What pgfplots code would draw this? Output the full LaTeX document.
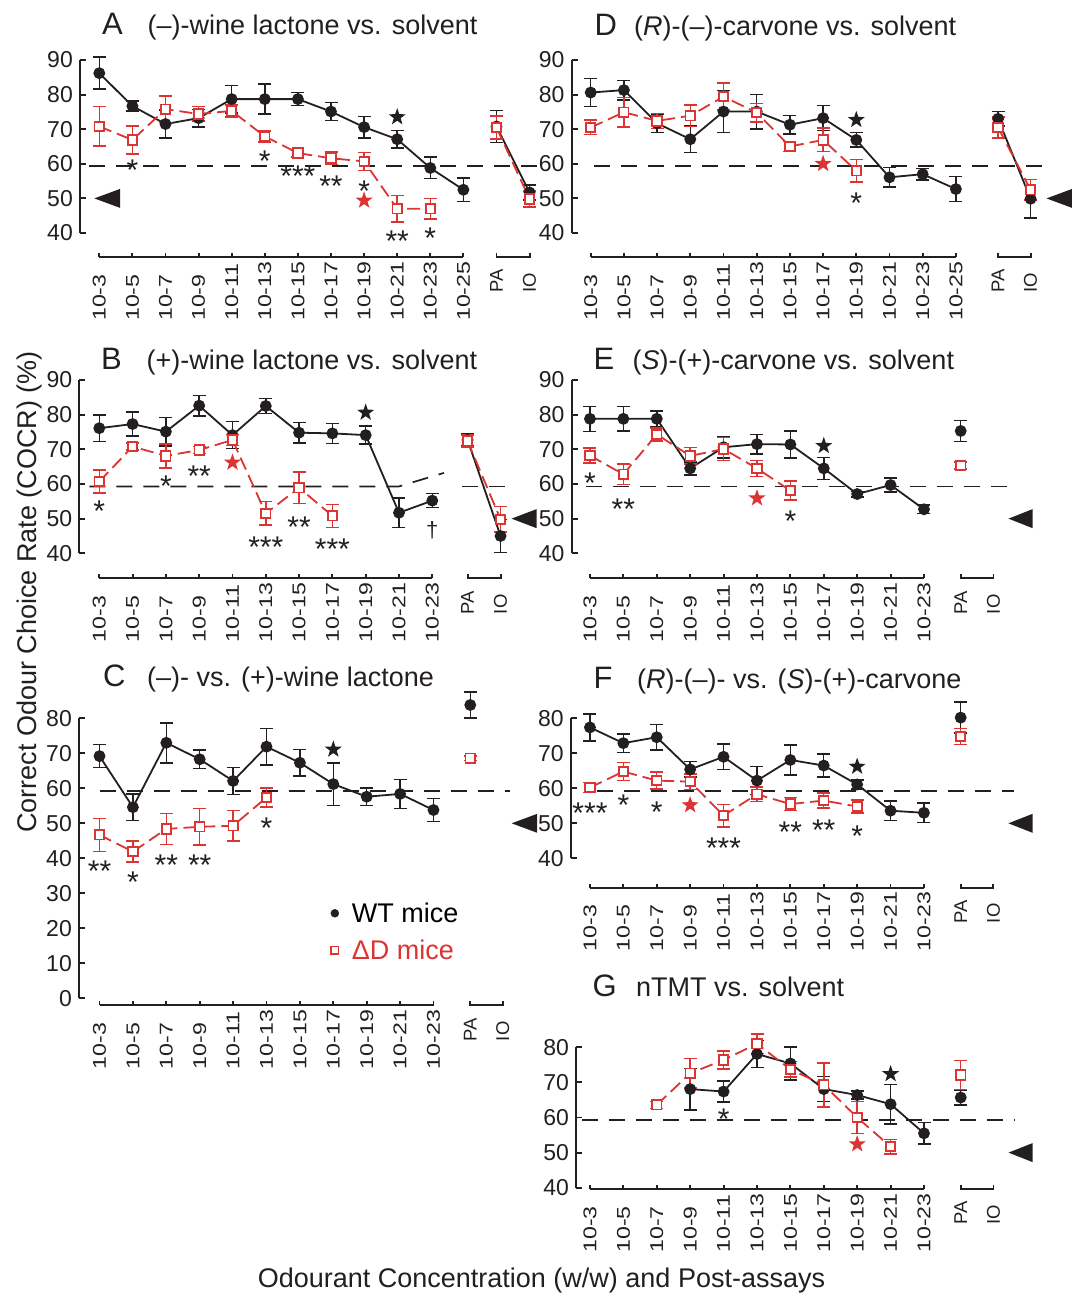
\documentclass[border=0pt]{standalone}
\usepackage{fontspec}
\setmainfont{Liberation Sans}
\newfontfamily\stretchfont[FakeStretch=1.25]{Liberation Sans}
\usepackage{pgfplots}
\pgfplotsset{compat=1.18}
\usetikzlibrary{shapes.geometric}
\definecolor{ink}{HTML}{231F20}
\definecolor{dred}{HTML}{DC3333}

\newcommand{\xf}{\stretchfont\fontsize{18.5}{20}\selectfont}
\newcommand{\paf}{\fontsize{18.5}{20}\selectfont}
\newcommand{\yf}{\fontsize{23}{25}\selectfont}
\newcommand{\labf}{\fontsize{27}{30}\selectfont}
\newcommand{\letf}{\fontsize{31}{34}\selectfont}
\newcommand{\astf}{\fontsize{30}{32}\selectfont}

\tikzset{
  axl/.style={ink, line width=1.9pt},
  chance/.style={ink, line width=1.7pt, dash pattern=on 16pt off 11pt},
  bstar/.style={star, star points=5, star point ratio=2.5, fill=ink, inner sep=0pt, minimum size=18pt},
  rstar/.style={bstar, fill=dred},
  sig/.style={font=\astf, text=ink, inner sep=0pt, anchor=base, yshift=-17pt},
}

% bracket under the concentrations and under PA/IO
\newcommand{\brk}[5]{%
  \draw[axl] (axis cs:0,#2) -- (axis cs:#1,#2);
  \pgfplotsinvokeforeach{0,...,#1}{\draw[axl] (axis cs:##1,#2) -- (axis cs:##1,#3);}
  \draw[axl] (axis cs:#4,#3) -- (axis cs:#4,#2) -- (axis cs:#5,#2) -- (axis cs:#5,#3);
}
% chance-level arrowhead
\newcommand{\tri}[4]{\fill[ink] (axis cs:#1,50) -- (axis cs:#2,#3) -- (axis cs:#2,#4) -- cycle;}
\newcommand{\sg}[3]{\node[sig] at (axis cs:#1,#2) {#3};}
\newcommand{\bst}[2]{\node[bstar] at (axis cs:#1,#2) {};}
\newcommand{\rst}[2]{\node[rstar] at (axis cs:#1,#2) {};}

\pgfplotsset{
  panel/.style={
    clip=false, anchor=south west,
    axis x line*=bottom, axis y line*=left,
    x axis line style={draw=none},
    y axis line style={line width=2pt, ink},
    xtick style={draw=none},
    ytick style={line width=1.9pt, ink},
    tick align=inside, major tick length=6pt,
    /pgf/number format/assume math mode=true,
    yticklabel style={font=\yf, text=ink, anchor=east, inner sep=0pt, xshift=-7pt},
    xticklabel style={font=\xf, text=ink, rotate=90, anchor=west, inner sep=0pt},
    extra x tick style={major tick length=0pt, xtick style={draw=none},
      xticklabel style={font=\paf, xshift=28pt}},
  },
  labs12/.style={xtick={0,...,11}, xticklabels={10-3,10-5,10-7,10-9,10-11,10-13,10-15,10-17,10-19,10-21,10-23,10-25}},
  labs11/.style={xtick={0,...,10}, xticklabels={10-3,10-5,10-7,10-9,10-11,10-13,10-15,10-17,10-19,10-21,10-23}},
  wt/.style={ink, line width=1.8pt, mark=*, mark size=5pt, mark options={solid, fill=ink},
    error bars/y dir=both, error bars/y explicit,
    error bars/error bar style={line width=1.5pt, solid, ink},
    error bars/error mark options={rotate=90, mark size=6.5pt, line width=1.5pt, ink}},
  dd/.style={dred, line width=1.8pt, dash pattern=on 13pt off 6pt, mark=square*, mark size=4.7pt,
    mark options={solid, fill=white, line width=1.8pt},
    error bars/y dir=both, error bars/y explicit,
    error bars/error bar style={line width=1.5pt, solid, dred},
    error bars/error mark options={rotate=90, mark size=6.5pt, line width=1.5pt, dred}},
}

\begin{document}
\begin{tikzpicture}

% ---------------- A ----------------
\begin{axis}[panel, labs12, at={(80pt,-233pt)}, x=33.1pt, y=3.46pt,
  xmin=-0.583, xmax=14, ymin=40, ymax=90, ytick={40,50,...,90},
  extra x ticks={12,13}, extra x tick labels={PA,IO}, xticklabel style={xshift=-88pt}]
\draw[chance] (axis cs:-0.3,59.3) -- (axis cs:13.25,59.3);
\brk{11}{33}{34.2}{12}{13}
\tri{-0.15}{0.63}{52.75}{47.25}
\addplot[wt] coordinates {(0,86.2)+-(0,4.6) (1,76.7)+-(0,1.5) (2,71.5)+-(0,4.0) (3,73.2)+-(0,2.5)
  (4,78.7)+-(0,4.0) (5,78.7)+-(0,4.3) (6,78.7)+-(0,1.9) (7,75.1)+-(0,2.6) (8,70.6)+-(0,3.1)
  (9,67.1)+-(0,2.5) (10,58.8)+-(0,3.1) (11,52.5)+-(0,3.4)};
\addplot[wt] coordinates {(12,70.8)+-(0,4.6) (13,51.7)+-(0,2.2)};
\addplot[dd] coordinates {(0,70.8)+-(0,5.7) (1,66.9)+-(0,4.0) (2,75.8)+-(0,3.8) (3,74.4)+-(0,2.1)
  (4,75.3)+-(0,1.7) (5,67.9)+-(0,1.6) (6,63.1)+-(0,1.1) (7,61.6)+-(0,1.8) (8,60.7)+-(0,2.6)
  (9,47.0)+-(0,3.8) (10,47.0)+-(0,3.0)};
\addplot[dd] coordinates {(12,70.5)+-(0,3.3) (13,49.8)+-(0,2.3)};
\sg{1}{60}{*} \sg{5}{62.6}{*} \sg{6}{58.3}{***} \sg{7}{55.4}{**} \sg{8}{53.9}{*}
\sg{9}{39.5}{**} \sg{10}{40.4}{*}
\bst{9}{73.5} \rst{8}{49.4}
\end{axis}

% ---------------- D ----------------
\begin{axis}[panel, labs12, at={(571.6pt,-233pt)}, x=33.2pt, y=3.46pt,
  xmin=-0.575, xmax=14.4, ymin=40, ymax=90, ytick={40,50,...,90},
  extra x ticks={12.27,13.25}, extra x tick labels={PA,IO}, xticklabel style={xshift=-88pt}]
\draw[chance] (axis cs:0.1,59.3) -- (axis cs:13.9,59.3);
\brk{11}{33.06}{34.2}{12.27}{13.25}
\tri{13.73}{14.5}{52.75}{47.25}
\addplot[wt] coordinates {(0,80.6)+-(0,4.0) (1,81.3)+-(0,2.8) (2,71.7)+-(0,2.6) (3,67.1)+-(0,3.8)
  (4,75.1)+-(0,6.1) (5,75.1)+-(0,5.0) (6,71.3)+-(0,2.7) (7,73.2)+-(0,3.6) (8,66.9)+-(0,2.1)
  (9,56.1)+-(0,2.8) (10,57.0)+-(0,1.7) (11,52.7)+-(0,3.6)};
\addplot[wt] coordinates {(12.27,73.0)+-(0,2.1) (13.25,49.9)+-(0,5.6)};
\addplot[dd] coordinates {(0,70.5)+-(0,2.1) (1,74.9)+-(0,4.2) (2,72.4)+-(0,2.2) (3,73.9)+-(0,3.1)
  (4,79.4)+-(0,3.9) (5,74.8)+-(0,2.7) (6,65.0)+-(0,1.4) (7,66.9)+-(0,3.4) (8,58.0)+-(0,3.3)};
\addplot[dd] coordinates {(12.27,70.5)+-(0,3.0) (13.25,52.5)+-(0,2.9)};
\sg{8}{50.6}{*}
\bst{8}{72.7} \rst{7}{60}
\end{axis}

% ---------------- B ----------------
\begin{axis}[panel, labs11, at={(79.3pt,-553.3pt)}, x=33.3pt, y=3.466pt,
  xmin=-0.6, xmax=13.5, ymin=40, ymax=90, ytick={40,50,...,90},
  extra x ticks={11.06,12.05}, extra x tick labels={PA,IO}, xticklabel style={xshift=-89pt}]
\draw[chance] (axis cs:-0.3,59.3) -- (axis cs:9,59.3) -- (axis cs:10.35,63.2);
\draw[chance] (axis cs:10.9,59.3) -- (axis cs:12.4,59.3);
\brk{10}{32.9}{34.1}{11.06}{12.05}
\tri{12.38}{13.13}{52.74}{47.26}
\addplot[wt] coordinates {(0,76.1)+-(0,3.8) (1,77.3)+-(0,3.5) (2,75.1)+-(0,4.1) (3,82.6)+-(0,3.0)
  (4,74.1)+-(0,3.9) (5,82.5)+-(0,2.1) (6,74.8)+-(0,3.0) (7,74.6)+-(0,2.9) (8,74.1)+-(0,2.6)
  (9,51.7)+-(0,4.2) (10,55.2)+-(0,2.0)};
\addplot[wt] coordinates {(11.06,72.7)+-(0,1.8) (12.05,45.0)+-(0,4.8)};
\addplot[dd] coordinates {(0,60.7)+-(0,3.3) (1,70.8)+-(0,1.0) (2,68.1)+-(0,3.5) (3,69.8)+-(0,1.0)
  (4,72.7)+-(0,1.6) (5,51.5)+-(0,3.4) (6,58.9)+-(0,4.6) (7,50.8)+-(0,3.3)};
\addplot[dd] coordinates {(11.06,72.4)+-(0,1.8) (12.05,49.8)+-(0,3.7)};
\sg{0}{54}{*} \sg{2}{61.3}{*} \sg{3}{64.2}{**} \sg{5}{43.8}{***} \sg{6}{49.6}{**} \sg{7}{43.1}{***}
\node[font=\fontsize{22}{24}\selectfont, text=ink, inner sep=0pt] at (axis cs:10,46.7) {†};
\bst{8}{80.6} \rst{4}{66.2}
\end{axis}

% ---------------- E ----------------
\begin{axis}[panel, labs11, at={(571.6pt,-553.3pt)}, x=33.4pt, y=3.466pt,
  xmin=-0.55, xmax=13.5, ymin=40, ymax=90, ytick={40,50,...,90},
  extra x ticks={11.1,12.08}, extra x tick labels={PA,IO}, xticklabel style={xshift=-89pt}]
\draw[chance] (axis cs:-0.13,59.3) -- (axis cs:12.7,59.3);
\brk{10}{32.9}{34.1}{11.1}{12.08}
\tri{12.53}{13.25}{52.74}{47.26}
\addplot[wt] coordinates {(0,78.8)+-(0,3.6) (1,78.8)+-(0,3.5) (2,78.8)+-(0,2.3) (3,64.5)+-(0,1.9)
  (4,70.6)+-(0,3.1) (5,71.5)+-(0,2.8) (6,71.4)+-(0,3.9) (7,64.5)+-(0,3.2) (8,57.1)+-(0,0.8)
  (9,59.7)+-(0,2.0) (10,52.7)+-(0,1.2)};
\addplot[wt] coordinates {(11.1,75.3)+-(0,3.0)};
\addplot[dd] coordinates {(0,68.2)+-(0,2.2) (1,62.8)+-(0,2.9) (2,74.3)+-(0,1.9) (3,68.1)+-(0,2.4)
  (4,70.1)+-(0,3.3) (5,64.5)+-(0,2.3) (6,58.1)+-(0,2.7)};
\addplot[dd] coordinates {(11.1,65.3)+-(0,1.0)};
\sg{0}{62.1}{*} \sg{1}{54.7}{**} \sg{6}{51.1}{*}
\bst{7}{71} \rst{5}{55.9}
\end{axis}

% ---------------- C ----------------
\begin{axis}[panel, labs11, at={(79pt,-998.3pt)}, x=33.4pt, y=3.5pt,
  xmin=-0.614, xmax=13.5, ymin=0, ymax=80, ytick={0,10,...,80},
  extra x ticks={11.1,12.07}, extra x tick labels={PA,IO}, xticklabel style={xshift=-71pt},
  legend style={draw=none, fill=none, at={(axis cs:6.92,19.0)}, anchor=west,
    font=\labf, inner sep=0pt, row sep=12pt, column sep=11pt, nodes={inner sep=2pt}},
  legend cell align=left]
\addlegendimage{only marks, mark=*, ink, mark size=4pt}
\addlegendentry{WT mice}
\addlegendimage{only marks, mark=square*, mark size=3.8pt, mark options={draw=dred, fill=white, line width=1.6pt}}
\addlegendentry{\textcolor{dred}{ΔD mice}}
\draw[chance] (axis cs:0,59.3) -- (axis cs:12.3,59.3);
\brk{10}{-1.9}{-0.75}{11.1}{12.07}
\tri{12.34}{13.1}{52.7}{47.3}
\addplot[wt] coordinates {(0,69.2)+-(0,3.3) (1,54.6)+-(0,3.8) (2,73.0)+-(0,5.7) (3,68.3)+-(0,2.6)
  (4,62.1)+-(0,3.8) (5,71.9)+-(0,5.2) (6,67.3)+-(0,3.8) (7,61.2)+-(0,6.1) (8,57.6)+-(0,2.5)
  (9,58.4)+-(0,4.1) (10,53.8)+-(0,3.3)};
\addplot[wt] coordinates {(11.1,83.8)+-(0,3.7)};
\addplot[dd] coordinates {(0,46.7)+-(0,4.7) (1,41.9)+-(0,3.0) (2,48.4)+-(0,4.4) (3,49.0)+-(0,5.2)
  (4,49.3)+-(0,4.3) (5,57.4)+-(0,2.7)};
\addplot[dd] coordinates {(11.1,68.6)+-(0,0.6)};
\sg{0}{38.1}{**} \sg{1}{35.2}{*} \sg{2}{40}{**} \sg{3}{40}{**} \sg{5}{50.5}{*}
\bst{7}{71.1}
\end{axis}

% ---------------- F ----------------
\begin{axis}[panel, labs11, at={(570.9pt,-858.3pt)}, x=33.4pt, y=3.5pt,
  xmin=-0.57, xmax=13.5, ymin=40, ymax=80, ytick={40,50,...,80},
  extra x ticks={11.1,12.08}, extra x tick labels={PA,IO}, xticklabel style={xshift=-93pt}]
\draw[chance] (axis cs:0.2,59.3) -- (axis cs:12.7,59.3);
\brk{10}{31.6}{32.75}{11.1}{12.08}
\tri{12.53}{13.25}{52.7}{47.3}
\addplot[wt] coordinates {(0,77.4)+-(0,3.9) (1,72.9)+-(0,2.6) (2,74.6)+-(0,3.6) (3,65.4)+-(0,2.2)
  (4,69.0)+-(0,3.6) (5,62.2)+-(0,4.0) (6,68.1)+-(0,4.3) (7,66.5)+-(0,3.3) (8,61.1)+-(0,1.3)
  (9,53.6)+-(0,2.8) (10,53.0)+-(0,2.8)};
\addplot[wt] coordinates {(11.1,80.2)+-(0,4.4)};
\addplot[dd] coordinates {(0,60.2)+-(0,1.4) (1,64.8)+-(0,2.6) (2,62.2)+-(0,2.4) (3,61.9)+-(0,2.2)
  (4,52.2)+-(0,3.2) (5,58.3)+-(0,2.1) (6,55.5)+-(0,1.9) (7,56.5)+-(0,2.1) (8,54.8)+-(0,1.8)};
\addplot[dd] coordinates {(11.1,74.8)+-(0,2.3)};
\sg{0}{54.8}{***} \sg{1}{57.1}{*} \sg{2}{55.2}{*} \sg{4}{44.8}{***} \sg{6}{49.5}{**}
\sg{7}{50}{**} \sg{8}{48.1}{*}
\bst{8}{66.2} \rst{3}{55.2}
\end{axis}

% ---------------- G ----------------
\begin{axis}[panel, labs11, at={(576.1pt,-1187.7pt)}, x=33.4pt, y=3.51pt,
  xmin=-0.416, xmax=13.5, ymin=40, ymax=80, ytick={40,50,...,80},
  extra x ticks={11.1,12.08}, extra x tick labels={PA,IO}, xticklabel style={xshift=-65pt}]
\draw[chance] (axis cs:-0.24,59.3) -- (axis cs:12.7,59.3);
\brk{10}{39.7}{40.85}{11.1}{12.08}
\tri{12.53}{13.25}{52.7}{47.3}
\addplot[wt] coordinates {(3,68.1)+-(0,5.9) (4,67.4)+-(0,3.0) (5,78.1)+-(0,3.9) (6,75.4)+-(0,4.7)
  (7,68.1)+-(0,3.6) (8,66.4)+-(0,1.1) (9,63.8)+-(0,5.6) (10,55.5)+-(0,3.1)};
\addplot[wt] coordinates {(11.1,65.7)+-(0,2.1)};
\addplot[dd] coordinates {(2,63.6)+-(0,1.0) (3,72.6)+-(0,4.2) (4,76.4)+-(0,2.6) (5,81.0)+-(0,2.8)
  (6,73.7)+-(0,2.2) (7,69.3)+-(0,6.3) (8,60.0)+-(0,4.5) (9,51.7)+-(0,2.1)};
\addplot[dd] coordinates {(11.1,72.1)+-(0,4.1)};
\sg{4}{61.4}{*}
\bst{9}{72.4} \rst{8}{52.4}
\end{axis}

% ---------------- titles and axis labels ----------------
\begin{scope}[every node/.style={text=ink, inner sep=0pt, anchor=base west}]
\node[font=\letf] at (102pt,-34pt) {A};
\node[font=\labf] at (147.5pt,-34pt) {(–)-wine lactone vs. solvent};
\node[font=\letf] at (594.5pt,-35pt) {D};
\node[font=\labf] at (634pt,-35pt) {(\textit{R})-(–)-carvone vs. solvent};
\node[font=\letf] at (101pt,-369.4pt) {B};
\node[font=\labf] at (146.5pt,-369.4pt) {(+)-wine lactone vs. solvent};
\node[font=\letf] at (593.4pt,-369.4pt) {E};
\node[font=\labf] at (632.5pt,-369.4pt) {(\textit{S})-(+)-carvone vs. solvent};
\node[font=\letf] at (103pt,-686.7pt) {C};
\node[font=\labf] at (147pt,-686.7pt) {(–)- vs. (+)-wine lactone};
\node[font=\letf] at (593.4pt,-688.3pt) {F};
\node[font=\labf] at (637pt,-688.3pt) {(\textit{R})-(–)- vs. (\textit{S})-(+)-carvone};
\node[font=\letf] at (592.4pt,-996.5pt) {G};
\node[font=\labf] at (636pt,-996.5pt) {nTMT vs. solvent};
\end{scope}
\node[font=\labf, text=ink, rotate=90, anchor=base, inner sep=0pt] at (36pt,-592pt)
  {Correct Odour Choice Rate (COCR) (\%)};
\node[font=\labf, text=ink, anchor=base, inner sep=0pt] at (541.5pt,-1287pt)
  {Odourant Concentration (w/w) and Post-assays};

\pgfresetboundingbox
\path (0pt,0pt) rectangle (1071pt,-1293pt);
\end{tikzpicture}
\end{document}
